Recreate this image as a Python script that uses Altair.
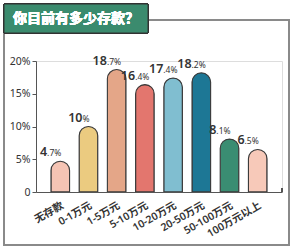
import altair as alt
import pandas as pd

categories = ["无存款", "0-1万元", "1-5万元", "5-10万元", "10-20万元", "20-50万元", "50-100万元", "100万元以上"]
values = [4.7, 10, 18.7, 16.4, 17.4, 18.2, 8.1, 6.5]
colors = ["#F5C4B4", "#EBCB80", "#E4A688", "#E3766E", "#80BED0", "#1D7795", "#3A8D72", "#F7C9B9"]
y_ticks = [0, 5, 10, 15, 20]
title_text = "你目前有多少存款？"

FONT = "Noto Sans, Noto Sans CJK SC"

rows = []
for c, v in zip(categories, values):
    s = f"{v:g}"
    if "." in s:
        big, dec = s.split(".")
        small = "." + dec + "%"
    else:
        big, small = s, "%"
    bigw = len(big) * 6.8
    smallw = sum(2.5 if ch == "." else (7 if ch == "%" else 5) for ch in small)
    rows.append({"cat": c, "val": v, "big": big, "small": small, "off": (bigw - smallw) / 2})
df = pd.DataFrame(rows)

x_axis = alt.Axis(labelAngle=-30, labelFontSize=10.5, labelColor="#333", labelFont=FONT,
                  labelFontWeight=600, labelOverlap=False,
                  domainColor="#555", ticks=False, labelPadding=8, zindex=1)
x_scale = alt.Scale(paddingInner=0.34, paddingOuter=0.53)
yenc = alt.Y("val:Q", title=None, scale=alt.Scale(domain=[0, 20], nice=False),
             axis=alt.Axis(values=y_ticks, labelExpr="datum.value == 0 ? '0' : datum.value + '%'",
                           grid=False, labelFontSize=10.5, labelColor="#333", labelFont=FONT,
                           labelOverlap=False, tickCount=5,
                           domainColor="#555", tickColor="#555", tickSize=4, labelPadding=2, zindex=1))

base = alt.Chart(df)

frame = base.mark_rect(filled=False, stroke="#8a8a8a", strokeWidth=1.5).encode(
    x=alt.value(-32), x2=alt.value(253), y=alt.value(-41), y2=alt.value(184))

bars = base.mark_bar(cornerRadiusTopLeft=9.3, cornerRadiusTopRight=9.3,
                     stroke="#3a3a3a", strokeWidth=1.1).encode(
    x=alt.X("cat:N", sort=categories, title=None, scale=x_scale, axis=x_axis),
    y=yenc,
    color=alt.Color("cat:N", sort=categories, legend=None,
                    scale=alt.Scale(domain=categories, range=colors)))

big_txt = base.mark_text(align="right", baseline="alphabetic", dy=-5, fontSize=12.5,
                         fontWeight=600, font=FONT).encode(
    x=alt.X("cat:N", sort=categories, title=None, scale=x_scale, axis=x_axis, bandPosition=0.5),
    y=yenc,
    xOffset=alt.XOffset("off:Q", scale=None), text="big:N", color=alt.value("#333333"))
small_txt = base.mark_text(align="left", baseline="alphabetic", dy=-5, fontSize=8.5,
                           font=FONT).encode(
    x=alt.X("cat:N", sort=categories, title=None, scale=x_scale, axis=x_axis, bandPosition=0.5),
    y=yenc,
    xOffset=alt.XOffset("off:Q", scale=None), text="small:N", color=alt.value("#333333"))

title_box = base.mark_rect(fill="#3B8B6E", stroke="#333", strokeWidth=1).encode(
    x=alt.value(-32), x2=alt.value(112), y=alt.value(-57), y2=alt.value(-28))
title = base.mark_text(fontSize=14, fontWeight="bold", font=FONT,
                       align="center", baseline="middle").encode(
    x=alt.value(40), y=alt.value(-42), text=alt.value(title_text), color=alt.value("white"))

endtick = base.mark_rule(color="#555", strokeWidth=1).encode(
    x=alt.value(246), y=alt.value(127), y2=alt.value(131))

chart = alt.layer(frame, bars, big_txt, small_txt, title_box, title, endtick).properties(
    width=246, height=131,
    autosize=alt.AutoSizeParams(type="none"),
    padding={"left": 36, "top": 61, "right": 14, "bottom": 58},
).configure_view(stroke=None).configure(background="white")

chart.save("out.html", embed_options={"renderer": "svg", "actions": False})
